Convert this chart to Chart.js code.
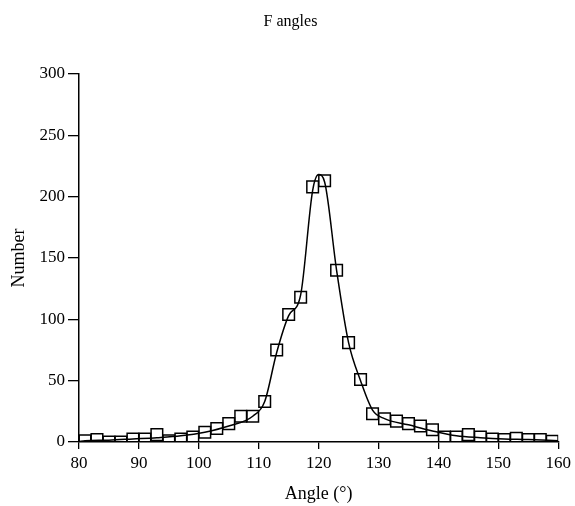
<!DOCTYPE html>
<html>
<head>
<meta charset="utf-8">
<script src="https://cdn.jsdelivr.net/npm/chart.js@4/dist/chart.umd.min.js"></script>
<style>
  html, body { margin: 0; padding: 0; background: #fff; }
  #wrap { width: 575px; height: 506px; position: relative; }
</style>
</head>
<body>
<div id="wrap"><canvas id="c" width="575" height="506"></canvas></div>
<script>
// Observed counts (square markers), angles in degrees
const angles = [81,83,85,87,89,91,93,95,97,99,101,103,105,107,109,111,113,115,117,119,
                121,123,125,127,129,131,133,135,137,139,141,143,145,147,149,151,153,155,157,159];
const counts = [1,2,0,0,2.5,2.5,6,1,2.5,4,8,11,15,21,21,33,75,104,118,208,
                213,140,81,51,23,19,17,15,13,10,4,4,6,4,2.5,2,3,2,2,0.5];

// Smooth fitted curve
const curveAngles = [80,81,85,89,93,97,101,105,109,111,113,115,117,119,120,121,123,125,127,129,131,135,139,143,147,151,155,160];
const curveValues = [0.5,1,1.5,2.5,3.5,5,8,13,21,33,73,103,120,205,218,212,140,81,50,26,19,14,9,5,3.5,2.5,2,1];

const xTicks = [80,90,100,110,120,130,140,150,160];
const yTicks = [0,50,100,150,200,250,300];
const chartTitle = 'F angles';

const FONT = "'Liberation Serif', 'Times New Roman', serif";

// Title drawn centred on the page (as in the reference), not over the plot box
const pageTitle = {
  id: 'pageTitle',
  afterDraw(chart) {
    const ctx = chart.ctx;
    ctx.save();
    ctx.fillStyle = '#000';
    ctx.font = '16px ' + FONT;
    ctx.textAlign = 'center';
    ctx.textBaseline = 'middle';
    ctx.fillText(chartTitle, chart.width / 2 + 3, 22);
    ctx.restore();
  }
};

new Chart(document.getElementById('c'), {
  type: 'line',
  data: {
    datasets: [
      {
        label: 'fit',
        data: curveAngles.map((a, i) => ({ x: a, y: curveValues[i] })),
        borderColor: '#000',
        borderWidth: 1.5,
        pointRadius: 0,
        fill: false,
        cubicInterpolationMode: 'monotone'
      },
      {
        label: 'counts',
        data: angles.map((a, i) => ({ x: a, y: counts[i] })),
        showLine: false,
        pointStyle: 'rect',
        pointRadius: 8.2,
        pointBorderWidth: 1.5,
        pointBorderColor: '#000',
        pointBackgroundColor: 'rgba(0,0,0,0)'
      }
    ]
  },
  plugins: [pageTitle],
  options: {
    responsive: false,
    animation: false,
    layout: { padding: { left: 0, right: 13, top: 74, bottom: 0 } },
    plugins: {
      legend: { display: false },
      tooltip: { enabled: false },
      title: { display: false }
    },
    scales: {
      x: {
        type: 'linear',
        min: 80, max: 160,
        afterFit: s => { s.height = 64; },
        afterBuildTicks: s => { s.ticks = xTicks.map(v => ({ value: v })); },
        ticks: { color: '#000', font: { family: FONT, size: 17 }, padding: 4, maxRotation: 0 },
        grid: { drawOnChartArea: false, drawTicks: true, tickLength: 7, color: '#000', lineWidth: 1.3 },
        border: { display: true, color: '#000', width: 1.5 },
        title: { display: true, text: 'Angle (°)', color: '#000', font: { family: FONT, size: 18 }, padding: { top: 4, bottom: 1 } }
      },
      y: {
        min: 0, max: 300,
        afterFit: s => { s.width = 79; },
        afterBuildTicks: s => { s.ticks = yTicks.map(v => ({ value: v })); },
        ticks: { color: '#000', font: { family: FONT, size: 17 }, padding: 3 },
        grid: { drawOnChartArea: false, drawTicks: true, tickLength: 11, color: '#000', lineWidth: 1.3 },
        border: { display: true, color: '#000', width: 1.5 },
        title: { display: true, text: 'Number', color: '#000', font: { family: FONT, size: 18 }, padding: { top: 8, bottom: 0 } }
      }
    }
  }
});
</script>
</body>
</html>
